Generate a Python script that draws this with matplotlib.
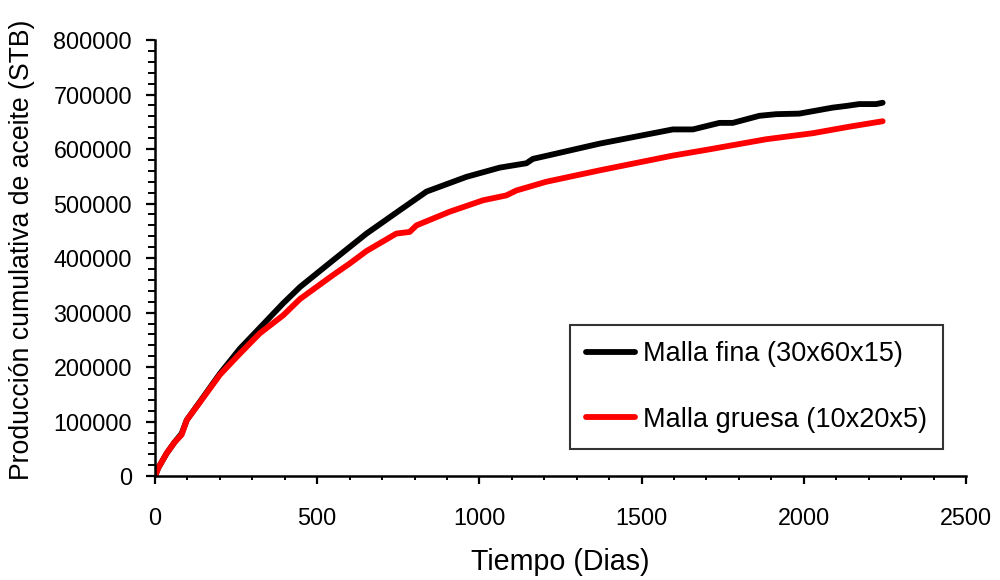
import matplotlib
matplotlib.use("Agg")
import matplotlib.pyplot as plt
from matplotlib.ticker import MultipleLocator

plt.rcParams['font.family'] = ['Liberation Sans', 'DejaVu Sans']

# Fine grid (30x60x15)
dias_fina = [0, 10, 36, 60, 82, 98, 139, 200, 262, 323, 395, 447, 549, 652,
             755, 837, 960, 1063, 1145, 1165, 1217, 1371, 1596, 1658, 1740,
             1781, 1863, 1915, 1986, 2089, 2130, 2171, 2223, 2243]
prod_fina = [0, 15000, 42000, 62000, 78000, 103000, 137000, 188000, 234000,
             272000, 317000, 347000, 396000, 445000, 488000, 522000, 549000,
             566000, 574000, 582000, 589000, 610000, 636000, 636000, 648000,
             648000, 661000, 664000, 665000, 676000, 679000, 682500, 682500,
             685000]

# Coarse grid (10x20x5)
dias_gruesa = [0, 10, 36, 60, 82, 98, 139, 200, 262, 323, 395, 447, 549, 600,
               652, 744, 785, 806, 908, 1011, 1083, 1114, 1206, 1371, 1596,
               1709, 1884, 2027, 2140, 2243]
prod_gruesa = [0, 15000, 42000, 62000, 76000, 103000, 136000, 186000, 225000,
               262000, 295000, 325000, 369000, 390000, 413000, 445000, 448000,
               460000, 485000, 506000, 515000, 524000, 540000, 561000, 588000,
               599500, 618000, 629000, 641000, 651000]

etiquetas = ["Malla fina (30x60x15)", "Malla gruesa (10x20x5)"]

fig = plt.figure(figsize=(10, 5.8), dpi=100)
ax = fig.add_axes([0.155, 0.179, 0.811, 0.752])

ax.plot(dias_fina, prod_fina, color='black', lw=4.2, solid_capstyle='round',
        solid_joinstyle='round', label=etiquetas[0])
ax.plot(dias_gruesa, prod_gruesa, color='#ff0000', lw=4.2, solid_capstyle='round',
        solid_joinstyle='round', label=etiquetas[1])

ax.set_xlim(0, 2500)
ax.set_ylim(0, 800000)
ax.xaxis.set_major_locator(MultipleLocator(500))
ax.xaxis.set_minor_locator(MultipleLocator(100))
ax.yaxis.set_major_locator(MultipleLocator(100000))
ax.yaxis.set_minor_locator(MultipleLocator(20000))

for s in ['top', 'right']:
    ax.spines[s].set_visible(False)
for s in ['left', 'bottom']:
    ax.spines[s].set_linewidth(1.8)

ax.tick_params(which='both', direction='out', colors='black', labelsize=16.8)
ax.tick_params(axis='y', which='major', length=6.5, width=1.6, pad=10)
ax.tick_params(axis='y', which='minor', length=4.8, width=1.4)
ax.tick_params(axis='x', which='major', length=5.5, width=1.6, pad=17)
ax.tick_params(axis='x', which='minor', length=3.2, width=1.4)

ax.set_xlabel("Tiempo (Dias)", fontsize=20.6, labelpad=13)
ax.set_ylabel("Producción cumulativa de aceite (STB)", fontsize=19.2, labelpad=5)
ax.yaxis.set_label_coords(-0.148, 0.518)

leg = ax.legend(loc='upper left', bbox_to_anchor=(0.5117, 0.3463), fontsize=19.5,
                frameon=True, fancybox=False, edgecolor='black',
                handlelength=1.8, handletextpad=0.3, labelspacing=1.45,
                borderpad=0.6, borderaxespad=0)
leg.get_frame().set_linewidth(1.5)
for h in leg.get_lines():
    h.set_linewidth(4.2)

fig.savefig("out.png", dpi=100)
